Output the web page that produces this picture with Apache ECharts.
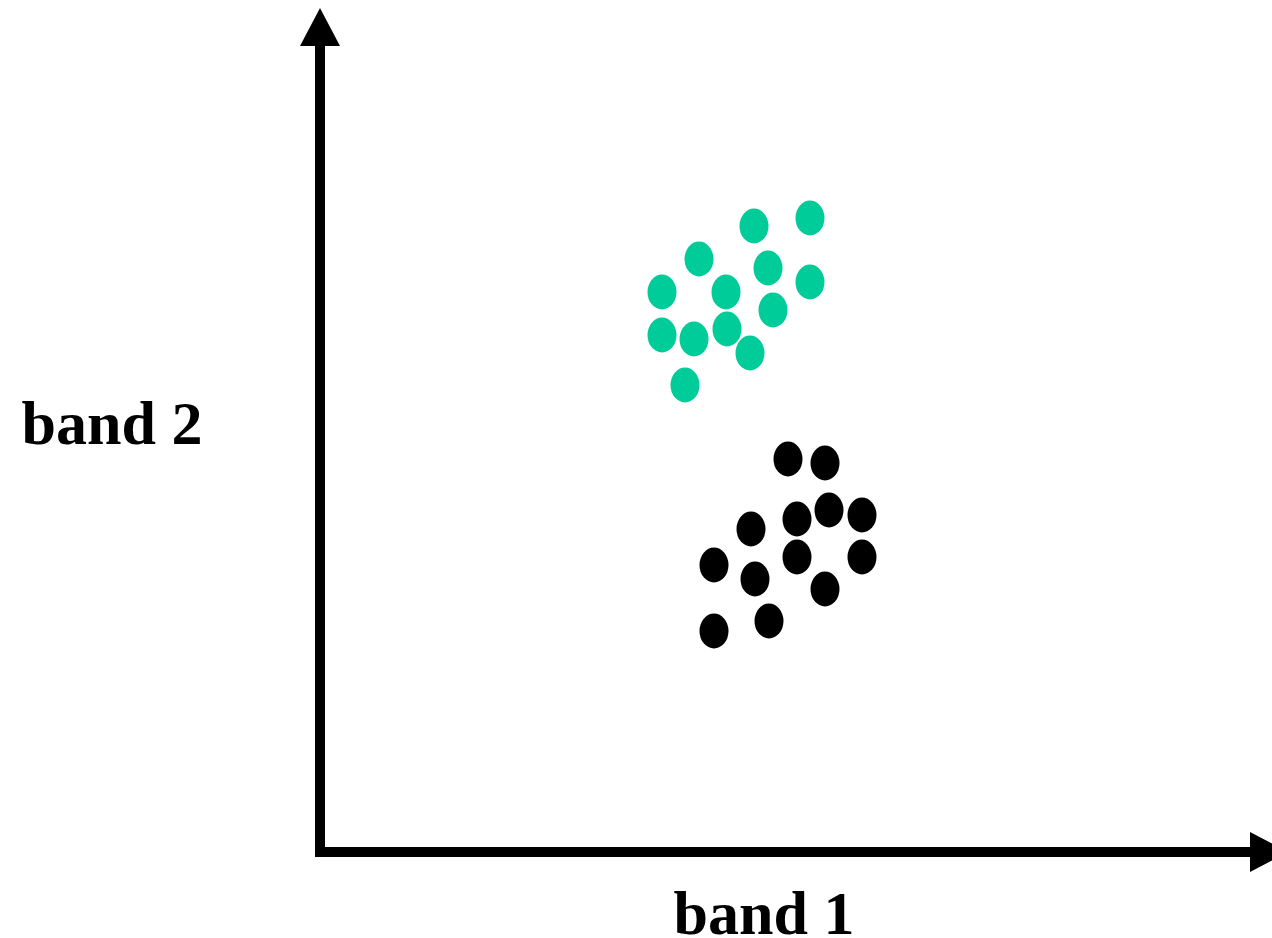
<!DOCTYPE html>
<html>
<head>
<meta charset="utf-8">
<script src="https://cdn.jsdelivr.net/npm/echarts@6/dist/echarts.min.js"></script>
<style>
html,body{margin:0;padding:0;background:#fff;}
#chart{width:1272px;height:938px;}
</style>
</head>
<body>
<div id="chart"></div>
<script>
// band 1 / band 2 values (arbitrary units)
var greenBand1 = [434, 490, 379, 448, 490, 342, 406, 453, 342, 374, 407, 430, 365];
var greenBand2 = [626, 634, 593, 584, 570, 560, 560, 542, 517, 513, 523, 499, 467];
var blackBand1 = [468, 505, 509, 542, 477, 431, 477, 542, 394, 435, 505, 449, 394];
var blackBand2 = [393, 389, 342, 337, 333, 323, 295, 295, 287, 273, 263, 231, 221];
var xAxisName = 'band 1';
var yAxisName = 'band 2';

function pairs(a, b) { return a.map(function (v, i) { return [v, b[i]]; }); }

var chart = echarts.init(document.getElementById('chart'), null, { renderer: 'canvas' });
var axisCommon = {
  type: 'value',
  axisLine: {
    show: true,
    onZero: false,
    symbol: ['none', 'triangle'],
    symbolSize: [40, 38],
    lineStyle: { color: '#000', width: 10, cap: 'square' }
  },
  axisTick: { show: false },
  axisLabel: { show: false },
  splitLine: { show: false }
};
chart.setOption({
  animation: false,
  backgroundColor: '#fff',
  grid: { left: 320, top: 27, width: 949, height: 825, containLabel: false },
  xAxis: Object.assign({}, axisCommon, { min: 0, max: 949 }),
  yAxis: Object.assign({}, axisCommon, { min: 0, max: 825 }),
  graphic: [
    { type: 'text', x: 112, y: 428, style: { text: yAxisName, font: 'bold 62px "Liberation Serif"', fill: '#000', align: 'center', verticalAlign: 'middle' } },
    { type: 'text', x: 764, y: 918, style: { text: xAxisName, font: 'bold 62px "Liberation Serif"', fill: '#000', align: 'center', verticalAlign: 'middle' } }
  ],
  series: [
    { type: 'scatter', data: pairs(greenBand1, greenBand2), symbol: 'circle', symbolSize: [29, 35], itemStyle: { color: '#00CC99', opacity: 1 } },
    { type: 'scatter', data: pairs(blackBand1, blackBand2), symbol: 'circle', symbolSize: [29, 35], itemStyle: { color: '#000', opacity: 1 } }
  ]
});
</script>
</body>
</html>
